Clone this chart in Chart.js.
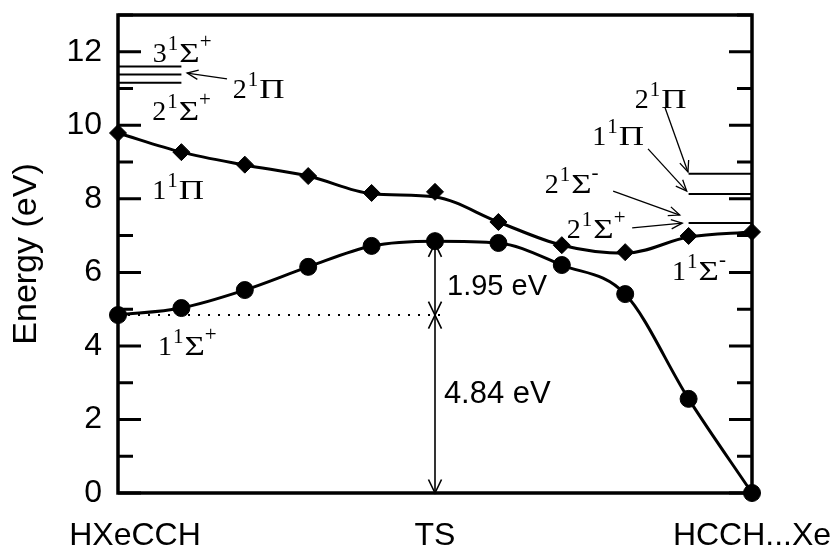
<!DOCTYPE html>
<html><head><meta charset="utf-8">
<script src="https://cdn.jsdelivr.net/npm/chart.js@4/dist/chart.umd.min.js"></script>
<style>html,body{margin:0;padding:0;background:#fff}canvas{display:block}</style>
</head><body>
<canvas id="c" width="830" height="549"></canvas>
<script>
// ---- data ----
const steps = [0, 1, 2, 3, 4, 5, 6, 7, 8, 9, 10];
const xTickPositions = [0, 5, 10];
const xTickLabels = ['HXeCCH', 'TS', 'HCCH...Xe'];
const pi1Markers = [9.79, 9.27, 8.93, 8.62, 8.16, 8.19, 7.37, 6.74, 6.55, 6.99, 7.10];
const pi1Curve   = [9.79, 9.27, 8.92, 8.62, 8.14, 8.05, 7.37, 6.74, 6.52, 6.96, 7.10];
const sigma1Markers = [4.84, 5.03, 5.52, 6.15, 6.72, 6.85, 6.80, 6.20, 5.41, 2.56, 0.00];
const sigma1Curve   = [4.84, 5.03, 5.52, 6.15, 6.72, 6.85, 6.80, 6.20, 5.41, 2.56, 0.00];
const leftLevels  = [11.60, 11.38, 11.16];   // HXeCCH excited states
const rightLevels = [8.68, 8.13, 7.34];      // HCCH...Xe excited states
const barrierGround = 4.84;
const barrierExcess = 1.95;

// ---- annotation layout (data coordinates) ----
const termLabels = [
  {x: 0.55, y: 11.72, t: ['3', '1', 'Σ', '+']},
  {x: 1.81, y: 10.74, t: ['2', '1', 'Π', '']},
  {x: 0.54, y: 10.14, t: ['2', '1', 'Σ', '+']},
  {x: 0.54, y: 8.00,  t: ['1', '1', 'Π', '']},
  {x: 0.63, y: 3.75,  t: ['1', '1', 'Σ', '+']},
  {x: 8.15, y: 10.47, t: ['2', '1', 'Π', '']},
  {x: 7.48, y: 9.46,  t: ['1', '1', 'Π', '']},
  {x: 6.73, y: 8.16,  t: ['2', '1', 'Σ', '-']},
  {x: 7.08, y: 6.94,  t: ['2', '1', 'Σ', '+']},
  {x: 8.74, y: 5.79,  t: ['1', '1', 'Σ', '-']}
];
const pointerArrows = [
  {from: [1.72, 11.26], to: [1.09, 11.42]},
  {from: [8.63, 10.47], to: [8.99, 8.73]},
  {from: [8.36, 9.36],  to: [8.97, 8.21]},
  {from: [7.81, 8.21],  to: [8.86, 7.56]},
  {from: [8.11, 7.21],  to: [8.90, 7.34]}
];

const pts = arr => steps.map((s, i) => ({x: s, y: arr[i]}));
const levelSet = (v, x0, x1) => ({
  data: [{x: x0, y: v}, {x: x1, y: v}], borderColor: '#000', borderWidth: 2,
  pointRadius: 0, clip: false, tension: 0
});

function drawArrowHead(ctx, x1, y1, x2, y2, len, ang) {
  const a = Math.atan2(y2 - y1, x2 - x1);
  ctx.beginPath();
  ctx.moveTo(x2 - len * Math.cos(a - ang), y2 - len * Math.sin(a - ang));
  ctx.lineTo(x2, y2);
  ctx.lineTo(x2 - len * Math.cos(a + ang), y2 - len * Math.sin(a + ang));
  ctx.stroke();
}
function drawTerm(ctx, px, py, t) {
  let cx = px;
  ctx.fillStyle = '#000';
  ctx.textAlign = 'left';
  ctx.textBaseline = 'alphabetic';
  ctx.font = '28px "Liberation Serif"';
  ctx.fillText(t[0], cx, py);
  cx += ctx.measureText(t[0]).width + 1;
  ctx.font = '21px "Liberation Serif"';
  ctx.fillText(t[1], cx, py - 12);
  cx += ctx.measureText(t[1]).width + 1;
  ctx.save();
  ctx.translate(cx, py);
  ctx.scale(1.25, 1);
  ctx.font = '28px "Liberation Serif"';
  ctx.fillText(t[2], 0, 0);
  const gw = ctx.measureText(t[2]).width * 1.25;
  ctx.restore();
  cx += gw;
  if (t[3]) {
    ctx.font = '21px "Liberation Serif"';
    ctx.fillText(t[3], cx, py - 14);
  }
}

const deco = {
  id: 'deco',
  beforeDatasetsDraw(chart) {
    const {ctx, chartArea: a, scales: {y}} = chart;
    ctx.save();
    ctx.strokeStyle = '#000';
    ctx.lineWidth = 3;
    ctx.lineCap = 'butt';
    y.ticks.forEach(tk => {
      const py = y.getPixelForValue(tk.value);
      const L = tk.value % 2 === 0 ? 23 : 15;
      ctx.beginPath();
      ctx.moveTo(a.left, py); ctx.lineTo(a.left + L, py);
      ctx.moveTo(a.right, py); ctx.lineTo(a.right - L, py);
      ctx.stroke();
    });
    ctx.lineWidth = 3.5;
    ctx.strokeRect(a.left, a.top, a.right - a.left, a.bottom - a.top);
    ctx.restore();
  },
  afterDatasetsDraw(chart) {
    const {ctx, chartArea: a, scales: {x, y}} = chart;
    ctx.save();
    ctx.strokeStyle = '#000';
    // dotted reference line
    ctx.lineWidth = 2;
    ctx.setLineDash([2, 8]);
    const yb = y.getPixelForValue(barrierGround);
    ctx.beginPath();
    ctx.moveTo(x.getPixelForValue(0), yb);
    ctx.lineTo(x.getPixelForValue(5.16), yb);
    ctx.stroke();
    ctx.setLineDash([]);
    // vertical double arrows at TS
    ctx.lineWidth = 1.6;
    const xt = x.getPixelForValue(5);
    const y0 = y.getPixelForValue(0);
    const yTop = y.getPixelForValue(barrierGround + barrierExcess);
    ctx.beginPath();
    ctx.moveTo(xt, y0); ctx.lineTo(xt, yTop); ctx.stroke();
    const H = 15, AN = 0.45;
    drawArrowHead(ctx, xt, yb, xt, y0, H, AN);
    drawArrowHead(ctx, xt, y0, xt, yb, H, AN);
    drawArrowHead(ctx, xt, yTop, xt, yb, H, AN);
    drawArrowHead(ctx, xt, yb, xt, yTop, H, AN);
    // pointer arrows
    ctx.lineWidth = 1.3;
    pointerArrows.forEach(p => {
      const x1 = x.getPixelForValue(p.from[0]), y1 = y.getPixelForValue(p.from[1]);
      const x2 = x.getPixelForValue(p.to[0]), y2 = y.getPixelForValue(p.to[1]);
      ctx.beginPath(); ctx.moveTo(x1, y1); ctx.lineTo(x2, y2); ctx.stroke();
      drawArrowHead(ctx, x1, y1, x2, y2, 12, 0.4);
    });
    // energy labels
    ctx.fillStyle = '#000';
    ctx.textAlign = 'left';
    ctx.textBaseline = 'alphabetic';
    ctx.font = '29px "Liberation Sans"';
    ctx.fillText(barrierExcess.toFixed(2) + ' eV', x.getPixelForValue(5.19), y.getPixelForValue(5.38));
    ctx.font = '31px "Liberation Sans"';
    ctx.fillText(barrierGround.toFixed(2) + ' eV', x.getPixelForValue(5.14), y.getPixelForValue(2.45));
    // term labels
    termLabels.forEach(l => drawTerm(ctx, x.getPixelForValue(l.x), y.getPixelForValue(l.y), l.t));
    // x category labels
    ctx.font = '32px "Liberation Sans"';
    ctx.textAlign = 'center';
    const dx = [17, 0, 0];
    xTickPositions.forEach((v, i) => {
      ctx.fillText(xTickLabels[i], x.getPixelForValue(v) + dx[i], a.bottom + 52);
    });
    ctx.restore();
  }
};

new Chart(document.getElementById('c'), {
  type: 'line',
  data: {
    datasets: [
      {data: pts(pi1Curve), borderColor: '#000', borderWidth: 3, pointRadius: 0, cubicInterpolationMode: 'monotone', clip: false},
      {data: pts(sigma1Curve), borderColor: '#000', borderWidth: 3, pointRadius: 0, cubicInterpolationMode: 'monotone', clip: false},
      {data: pts(pi1Markers), showLine: false, pointStyle: 'rectRot', pointRadius: 8.5, backgroundColor: '#000', borderColor: '#000', borderWidth: 1, clip: false},
      {data: pts(sigma1Markers), showLine: false, pointStyle: 'circle', pointRadius: 8.5, backgroundColor: '#000', borderColor: '#000', borderWidth: 1, clip: false},
      ...leftLevels.map(v => levelSet(v, 0, 1)),
      ...rightLevels.map(v => levelSet(v, 9, 10))
    ]
  },
  options: {
    responsive: false,
    animation: false,
    devicePixelRatio: 1,
    layout: {padding: {left: 0, top: 15, right: 78, bottom: 0}},
    plugins: {legend: {display: false}, tooltip: {enabled: false}},
    elements: {point: {hoverRadius: 8.5}},
    scales: {
      x: {
        type: 'linear', min: 0, max: 10,
        grid: {display: false, drawTicks: false},
        border: {display: false},
        ticks: {display: false},
        afterFit: s => { s.height = 56; s.paddingLeft = 0; s.paddingRight = 0; }
      },
      y: {
        type: 'linear', min: 0, max: 13,
        grid: {display: false, drawTicks: false},
        border: {display: false},
        ticks: {
          stepSize: 1, autoSkip: false, padding: 16, color: '#000',
          font: {family: '"Liberation Sans"', size: 32},
          callback: v => (v % 2 === 0 ? String(v) : '')
        },
        title: {
          display: true, text: 'Energy (eV)', color: '#000',
          font: {family: '"Liberation Sans"', size: 34},
          padding: {top: 6, bottom: 0}
        },
        afterFit: s => { s.width = 118; s.paddingTop = 0; s.paddingBottom = 0; }
      }
    }
  },
  plugins: [deco]
});
</script>
</body></html>
